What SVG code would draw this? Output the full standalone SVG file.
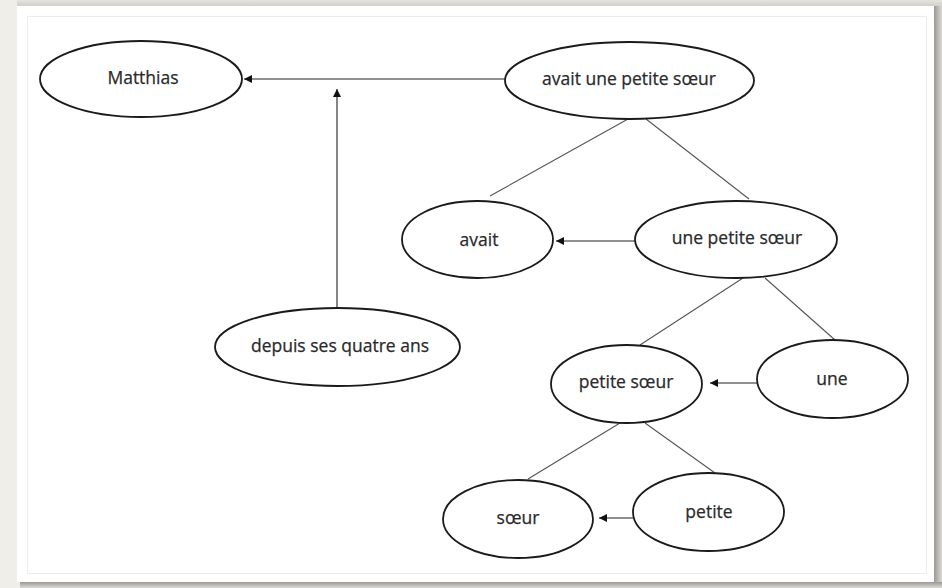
<svg xmlns="http://www.w3.org/2000/svg" width="942" height="588" viewBox="0 0 942 588">
<defs>
<style>
.node ellipse{fill:#fff;stroke:#1a1a1a;stroke-width:1.8}
.node text{font-family:"Open Sans","Liberation Sans",sans-serif;font-size:17.5px;fill:#2a2a2a;stroke:#2a2a2a;stroke-width:0.25;text-anchor:middle;dominant-baseline:central}
.tree{stroke:#555;stroke-width:1.1;fill:none}
.arr{stroke:#222;stroke-width:1.1;fill:none;marker-end:url(#ah)}
</style>
<marker id="ah" viewBox="0 0 10 10" refX="10" refY="5" markerWidth="8" markerHeight="8" markerUnits="userSpaceOnUse" orient="auto">
<path d="M0,0 L10,5 L0,10 z" fill="#111"/>
</marker>
<linearGradient id="shR" x1="0" y1="0" x2="1" y2="0">
<stop offset="0" stop-color="#9a9893"/>
<stop offset="1" stop-color="#dcdad4"/>
</linearGradient>
<linearGradient id="shB" x1="0" y1="0" x2="0" y2="1">
<stop offset="0" stop-color="#9a9893"/>
<stop offset="1" stop-color="#dcdad4"/>
</linearGradient>
<linearGradient id="shT" x1="0" y1="0" x2="0" y2="1">
<stop offset="0" stop-color="#e6e4de"/>
<stop offset="1" stop-color="#d2d0ca"/>
</linearGradient>
</defs>
<rect x="0" y="0" width="942" height="588" fill="#efeee9"/>
<rect x="17" y="0" width="925" height="6" fill="url(#shT)"/>
<rect x="934" y="6" width="8" height="582" fill="url(#shR)"/>
<rect x="20" y="582" width="922" height="6" fill="url(#shB)"/>
<rect x="17" y="6" width="917" height="576" fill="#fff"/>
<rect x="27.5" y="16.5" width="899" height="557" fill="none" stroke="#ececec" stroke-width="1"/>

<g id="connectors">
<line class="arr" x1="505" y1="79" x2="244" y2="79"/>
<line class="arr" x1="337" y1="308" x2="337" y2="89"/>
<line class="tree" x1="628" y1="119" x2="490" y2="196"/>
<line class="tree" x1="646" y1="119" x2="749" y2="199"/>
<line class="arr" x1="635" y1="241" x2="556" y2="241"/>
<line class="tree" x1="743" y1="278" x2="640" y2="345"/>
<line class="tree" x1="765" y1="278" x2="835" y2="340"/>
<line class="arr" x1="757" y1="383" x2="710" y2="383"/>
<line class="tree" x1="620" y1="423" x2="528" y2="479"/>
<line class="tree" x1="645" y1="423" x2="715" y2="473"/>
<line class="arr" x1="633" y1="518" x2="599" y2="518"/>
</g>

<g id="n-matthias" class="node"><ellipse cx="141" cy="79" rx="101" ry="38"/><text x="143" y="77">Matthias</text></g>
<g id="n-avait-une-petite-soeur" class="node"><ellipse cx="629.5" cy="80.5" rx="124.5" ry="38.5"/><text x="629" y="78">avait une petite sœur</text></g>
<g id="n-avait" class="node"><ellipse cx="477.5" cy="239.5" rx="75.5" ry="38.5"/><text x="479" y="239">avait</text></g>
<g id="n-une-petite-soeur" class="node"><ellipse cx="736" cy="239.5" rx="101" ry="38.5"/><text x="737" y="237">une petite sœur</text></g>
<g id="n-depuis" class="node"><ellipse cx="337.5" cy="347" rx="122.5" ry="39"/><text x="340" y="345">depuis ses quatre ans</text></g>
<g id="n-petite-soeur" class="node"><ellipse cx="626.5" cy="384" rx="75.5" ry="39"/><text x="626" y="381">petite sœur</text></g>
<g id="n-une" class="node"><ellipse cx="832.5" cy="379" rx="75.5" ry="39"/><text x="832" y="378">une</text></g>
<g id="n-soeur" class="node"><ellipse cx="518" cy="519" rx="75" ry="39"/><text x="518" y="517">sœur</text></g>
<g id="n-petite" class="node"><ellipse cx="708.5" cy="512" rx="75.5" ry="39"/><text x="709" y="511">petite</text></g>
</svg>
